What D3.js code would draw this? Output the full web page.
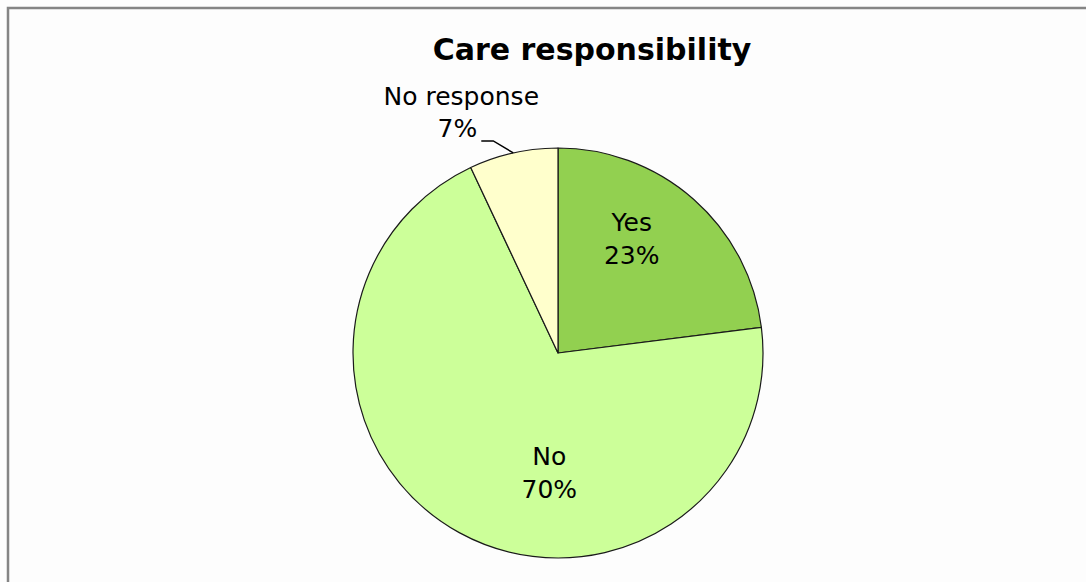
<!DOCTYPE html>
<html>
<head>
<meta charset="utf-8">
<script src="https://cdn.jsdelivr.net/npm/d3@7"></script>
<style>
  html, body { margin: 0; padding: 0; background: #fdfdfd; }
  svg { display: block; }
</style>
</head>
<body>
<script>
// chart data
const categories = ["Yes", "No", "No response"];
const values = [23, 70, 7];
const colors = ["#92d050", "#ccff99", "#ffffcc"];

const width = 1086;
const height = 582;
const cx = 558, cy = 353, radius = 205;

const svg = d3.select("body")
    .append("svg")
    .attr("width", width)
    .attr("height", height)
    .attr("viewBox", [0, 0, width, height]);

// frame (only left and top edges are visible in the crop)
svg.append("path")
    .attr("d", `M8,${height} V8 H${width}`)
    .attr("fill", "none")
    .attr("stroke", "#858585")
    .attr("stroke-width", 2.5);

svg.append("text")
    .attr("x", 592)
    .attr("y", 60)
    .attr("text-anchor", "middle")
    .attr("font-family", "DejaVu Sans, sans-serif")
    .attr("font-weight", "bold")
    .attr("font-size", 30)
    .attr("fill", "#000")
    .text("Care responsibility");

const data = categories.map((c, i) => ({ cat: c, value: values[i], color: colors[i] }));

const pie = d3.pie().sort(null).value(d => d.value);
const arcs = pie(data);
const arc = d3.arc().innerRadius(0).outerRadius(radius);

const g = svg.append("g").attr("transform", `translate(${cx},${cy})`);

g.selectAll("path.slice")
    .data(arcs)
    .join("path")
    .attr("class", "slice")
    .attr("d", arc)
    .attr("fill", d => d.data.color)
    .attr("stroke", "#1a1a1a")
    .attr("stroke-width", 1.2)
    .attr("stroke-linejoin", "round");

const fontFamily = "DejaVu Sans, sans-serif";
const fontSize = 25;

// inside labels: Yes and No
const labelArc = d3.arc().innerRadius(0).outerRadius(radius * 1.25);
const insideNudge = { "Yes": [-11, -9], "No": [53, 17] };

arcs.filter(d => d.data.cat !== "No response").forEach(d => {
    const [x, y] = labelArc.centroid(d);
    const [nx, ny] = insideNudge[d.data.cat];
    const t = g.append("text")
        .attr("text-anchor", "middle")
        .attr("font-family", fontFamily)
        .attr("font-size", fontSize)
        .attr("fill", "#000");
    t.append("tspan").attr("x", x + nx).attr("y", y + ny - 17).text(d.data.cat);
    t.append("tspan").attr("x", x + nx).attr("y", y + ny + 16).text(d.data.value + "%");
});

// outside label with leader line: No response
const nr = arcs.find(d => d.data.cat === "No response");
const midA = (nr.startAngle + nr.endAngle) / 2;
const edge = [Math.sin(midA) * radius, -Math.cos(midA) * radius];
const elbow = [edge[0] - 20, edge[1] - 12];
const lineEnd = [elbow[0] - 12, elbow[1]];

g.append("polyline")
    .attr("points", [edge, elbow, lineEnd].map(p => p.join(",")).join(" "))
    .attr("fill", "none")
    .attr("stroke", "#000")
    .attr("stroke-width", 1.5);

g.append("text")
    .attr("x", lineEnd[0] - 20)
    .attr("y", lineEnd[1] - 36)
    .attr("text-anchor", "middle")
    .attr("font-family", fontFamily)
    .attr("font-size", fontSize)
    .attr("fill", "#000")
    .text(nr.data.cat);

g.append("text")
    .attr("x", lineEnd[0] - 4)
    .attr("y", lineEnd[1] - 4)
    .attr("text-anchor", "end")
    .attr("font-family", fontFamily)
    .attr("font-size", fontSize)
    .attr("fill", "#000")
    .text(nr.data.value + "%");
</script>
</body>
</html>
